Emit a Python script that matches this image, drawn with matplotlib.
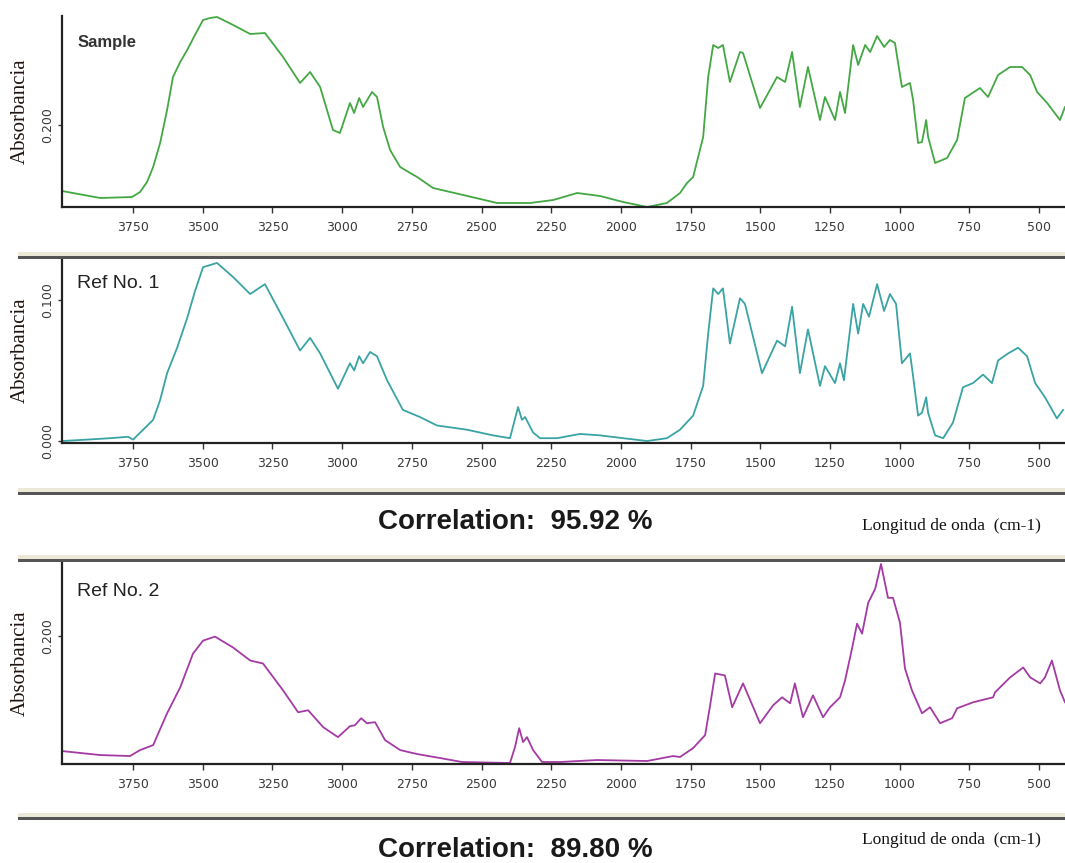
import numpy as np
import matplotlib
matplotlib.use("Agg")
import matplotlib.pyplot as plt
from matplotlib.patches import Rectangle

W, H = 1065, 863

# ---- spectra (wavenumber cm-1, absorbance) ----
sample_wn = [4005, 3868, 3754, 3725, 3700, 3678, 3653, 3628, 3607, 3581, 3556, 3528, 3499,
             3474, 3449, 3391, 3330, 3277, 3212, 3151, 3115, 3079, 3033, 3008, 2972, 2957,
             2939, 2925, 2893, 2875, 2853, 2828, 2792, 2756, 2731, 2674, 2566, 2444, 2326,
             2243, 2157, 2075, 1992, 1906, 1835, 1788, 1763, 1741, 1705, 1687, 1669, 1651,
             1634, 1609, 1573, 1562, 1501, 1440, 1411, 1386, 1358, 1329, 1286, 1268, 1232,
             1214, 1196, 1167, 1149, 1124, 1106, 1081, 1056, 1035, 1017, 992, 963, 952, 934,
             920, 905, 898, 873, 830, 794, 766, 712, 683, 647, 604, 561, 532, 507, 471, 425,
             407]
sample_abs = [0.134, 0.127, 0.128, 0.133, 0.143, 0.158, 0.182, 0.215, 0.248, 0.263, 0.275,
              0.290, 0.305, 0.307, 0.308, 0.300, 0.291, 0.292, 0.268, 0.242, 0.253, 0.238,
              0.195, 0.192, 0.222, 0.212, 0.227, 0.218, 0.233, 0.228, 0.198, 0.175, 0.158,
              0.152, 0.148, 0.137, 0.130, 0.122, 0.122, 0.125, 0.132, 0.129, 0.123, 0.118,
              0.122, 0.132, 0.142, 0.148, 0.188, 0.248, 0.280, 0.277, 0.280, 0.243, 0.273,
              0.272, 0.217, 0.248, 0.243, 0.273, 0.218, 0.258, 0.205, 0.228, 0.205, 0.233,
              0.212, 0.280, 0.260, 0.280, 0.273, 0.289, 0.278, 0.285, 0.282, 0.238, 0.242,
              0.225, 0.182, 0.183, 0.205, 0.188, 0.162, 0.167, 0.185, 0.227, 0.237, 0.228,
              0.250, 0.258, 0.258, 0.250, 0.233, 0.222, 0.205, 0.218]

ref1_wn = [4005, 3915, 3832, 3768, 3750, 3678, 3653, 3628, 3592, 3556, 3528, 3499, 3449,
           3391, 3330, 3277, 3212, 3151, 3115, 3079, 3015, 2972, 2957, 2939, 2925, 2900,
           2875, 2839, 2782, 2721, 2660, 2552, 2459, 2398, 2369, 2355, 2344, 2315, 2290,
           2229, 2147, 2075, 1992, 1906, 1835, 1788, 1741, 1705, 1687, 1669, 1651, 1634,
           1609, 1573, 1555, 1494, 1440, 1411, 1386, 1358, 1329, 1286, 1268, 1232, 1214,
           1200, 1167, 1149, 1131, 1110, 1081, 1056, 1035, 1013, 992, 963, 952, 934, 920,
           905, 898, 873, 844, 809, 773, 737, 701, 669, 647, 611, 575, 543, 514, 479, 436,
           414]
ref1_abs = [0.000, 0.001, 0.002, 0.003, 0.001, 0.015, 0.029, 0.048, 0.066, 0.087, 0.106,
            0.123, 0.126, 0.116, 0.104, 0.111, 0.087, 0.064, 0.073, 0.062, 0.037, 0.055,
            0.050, 0.060, 0.055, 0.063, 0.060, 0.043, 0.022, 0.017, 0.011, 0.008, 0.004,
            0.002, 0.024, 0.015, 0.017, 0.006, 0.002, 0.002, 0.005, 0.004, 0.002, 0.000,
            0.002, 0.008, 0.018, 0.039, 0.076, 0.108, 0.104, 0.108, 0.069, 0.101, 0.097,
            0.048, 0.071, 0.067, 0.095, 0.048, 0.079, 0.039, 0.053, 0.041, 0.055, 0.043,
            0.097, 0.076, 0.097, 0.088, 0.111, 0.092, 0.104, 0.097, 0.055, 0.062, 0.046,
            0.018, 0.020, 0.031, 0.020, 0.004, 0.002, 0.013, 0.038, 0.041, 0.047, 0.041,
            0.057, 0.062, 0.066, 0.060, 0.041, 0.031, 0.016, 0.022]

ref2_wn = [4005, 3868, 3761, 3725, 3678, 3628, 3581, 3535, 3499, 3456, 3391, 3330, 3284,
           3212, 3158, 3122, 3068, 3015, 2972, 2954, 2932, 2911, 2882, 2846, 2792, 2731,
           2649, 2570, 2398, 2380, 2365, 2351, 2337, 2315, 2283, 2218, 2086, 1906, 1813,
           1788, 1741, 1698, 1680, 1662, 1627, 1601, 1562, 1501, 1454, 1422, 1393, 1376,
           1347, 1311, 1275, 1250, 1214, 1196, 1171, 1153, 1135, 1113, 1088, 1067, 1042,
           1024, 999, 981, 956, 920, 891, 855, 812, 794, 737, 665, 658, 604, 557, 532,
           496, 479, 454, 425, 407]
ref2_abs = [0.084, 0.080, 0.079, 0.085, 0.090, 0.122, 0.148, 0.182, 0.195, 0.199, 0.188,
            0.175, 0.172, 0.145, 0.123, 0.125, 0.108, 0.098, 0.109, 0.110, 0.117, 0.112,
            0.113, 0.095, 0.085, 0.081, 0.077, 0.073, 0.072, 0.088, 0.107, 0.093, 0.098,
            0.085, 0.073, 0.073, 0.075, 0.074, 0.079, 0.078, 0.087, 0.100, 0.130, 0.162,
            0.160, 0.128, 0.152, 0.112, 0.130, 0.138, 0.132, 0.152, 0.118, 0.140, 0.118,
            0.128, 0.138, 0.155, 0.187, 0.212, 0.202, 0.233, 0.247, 0.272, 0.238, 0.238,
            0.213, 0.167, 0.145, 0.122, 0.128, 0.112, 0.117, 0.127, 0.133, 0.138, 0.143,
            0.158, 0.168, 0.158, 0.152, 0.158, 0.175, 0.145, 0.133]

xticks = [3750, 3500, 3250, 3000, 2750, 2500, 2250, 2000, 1750, 1500, 1250, 1000, 750, 500]
correlations = [95.92, 89.80]

# panel: (wn, abs, colour, label, bold, ylim, yticks, ytick labels, top px, bottom px)
panels = [
    (sample_wn, sample_abs, "#43a843", "Sample", True, (0.118, 0.309), [0.2], ["0.200"], 16, 207),
    (ref1_wn, ref1_abs, "#3aa3a3", "Ref No. 1", False, (-0.0014, 0.1295), [0.0, 0.1],
     ["0.000", "0.100"], 258, 443),
    (ref2_wn, ref2_abs, "#a43aa4", "Ref No. 2", False, (0.071, 0.273), [0.2], ["0.200"], 563, 764),
]

fig = plt.figure(figsize=(W / 100, H / 100), dpi=100)
fig.patch.set_facecolor("white")

def fx(x): return x / W
def fy(y): return 1 - y / H

for wn, ab, col, lab, bold, ylim, yt, ytl, top, bot in panels:
    ax = fig.add_axes([fx(62), fy(bot), 1 - fx(62), (bot - top) / H])
    ax.plot(wn, ab, color=col, lw=1.3)
    ax.set_xlim(4005, 407)
    ax.set_ylim(*ylim)
    ax.set_xticks(xticks)
    ax.set_yticks(yt)
    ax.set_yticklabels(ytl, rotation=90, va="center")
    for s in ["top", "right"]:
        ax.spines[s].set_visible(False)
    for s in ["left", "bottom"]:
        ax.spines[s].set_linewidth(1.6)
        ax.spines[s].set_color("#222222")
    ax.tick_params(axis="both", direction="out", length=4, width=1, color="#333333",
                   labelsize=9, labelcolor="#3a3a3a", pad=6)
    ax.tick_params(axis="y", length=3, pad=3)
    ax.text(0.015, 0.86, lab, transform=ax.transAxes,
            fontsize=12 if bold else 14, fontweight="bold" if bold else "normal",
            color="#333333" if bold else "#222222", family="Liberation Sans",
            va="center", ha="left")
    fig.text(fx(20), fy((top + bot) / 2), "Absorbancia", rotation=90, ha="center",
             va="center", family="Liberation Serif", fontsize=15, color="#1e1410")

# separator bars (beige groove with dark line)
for y0 in [252, 488, 555, 813]:
    fig.add_artist(Rectangle((fx(18), fy(y0 + 4)), 1 - fx(18), 4 / H,
                             transform=fig.transFigure, facecolor="#ece9d8", edgecolor="none"))
    fig.add_artist(Rectangle((fx(18), fy(y0 + 7)), 1 - fx(18), 3 / H,
                             transform=fig.transFigure, facecolor="#555555", edgecolor="none"))

for cy, ly, c in [(522, 526, correlations[0]), (850, 840, correlations[1])]:
    fig.text(fx(515), fy(cy), f"Correlation:  {c:.2f} %", ha="center", va="center",
             family="Liberation Sans", fontweight="bold", fontsize=20, color="#1a1a1a")
    fig.text(fx(951), fy(ly), "Longitud de onda  (cm-1)", ha="center", va="center",
             family="Liberation Serif", fontsize=12.5, color="#111111")

fig.savefig("out.png", dpi=100)
